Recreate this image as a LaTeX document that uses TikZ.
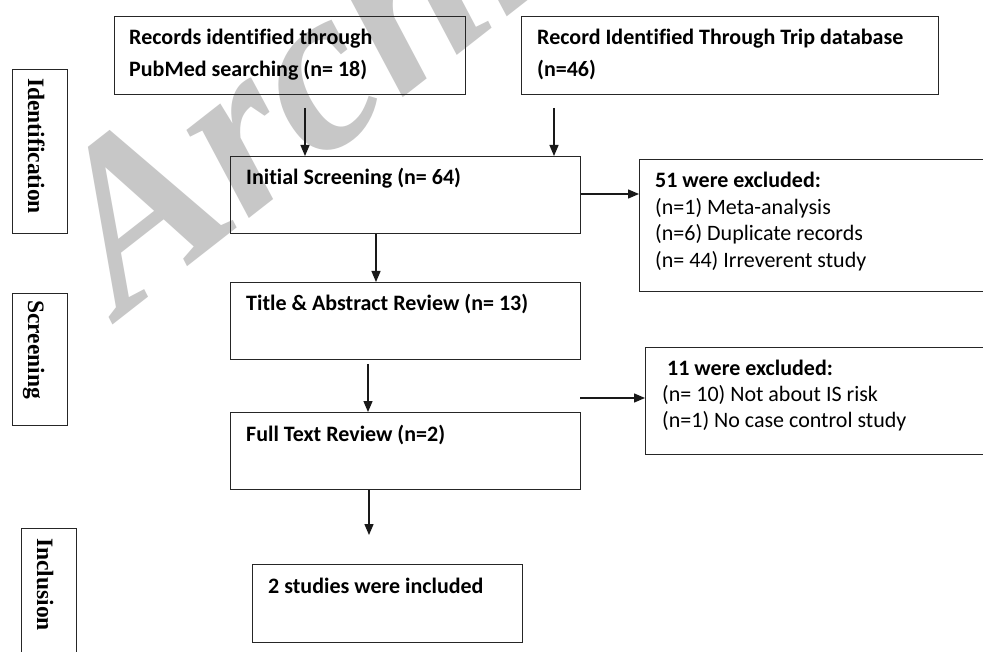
\documentclass[tikz,border=0pt]{standalone}
\usepackage{fontspec}
\setmainfont{Carlito}[Ligatures=CommonOff]
\newfontfamily\timesf{Liberation Serif}
\usetikzlibrary{arrows.meta}
\newcommand\mylines[1]{\begin{tabular}[t]{@{}l@{}}#1\end{tabular}}
\begin{document}
\begin{tikzpicture}[x=1pt,y=-1pt,
  box/.style={draw=black!85,line width=1.2pt,anchor=north west,inner sep=0pt,
    minimum width=#1},
  box/.default=100pt,
  lab/.style={anchor=base west,rotate=-90,inner sep=0pt,
    font=\timesf\fontsize{23.5}{23.5}\selectfont\bfseries},
  head/.style={anchor=base west,inner sep=0pt,font=\fontsize{22}{32}\selectfont\bfseries},
  plain/.style={anchor=base west,inner sep=0pt,font=\fontsize{22}{26.4}\selectfont},
  arr/.style={draw=black!90,line width=1.3pt,-{Triangle[length=11pt,width=9pt]}},
  wm/.style={text=black!22,anchor=base west,inner sep=0pt,rotate=38,
    font=\timesf\fontsize{235}{235}\selectfont\bfseries\itshape}
]
\useasboundingbox (0,0) rectangle (983,652);
\clip (0,0) rectangle (983,652);
\fill[white] (0,0) rectangle (983,652);

% watermark
\node[wm] (mark) at (122,318) {Archive};

% stage labels
\node[box=55pt,minimum height=164pt] (idbox) at (12,69) {};
\node[lab] (idt) at (28,78) {Identification};
\node[box=55pt,minimum height=132pt] (scbox) at (12,293) {};
\node[lab] (sct) at (28,300) {Screening};
\node[box=55pt,minimum height=140pt] (inbox) at (21,528) {};
\node[lab] (int) at (37,538) {Inclusion};

% boxes
\node[box=351pt,minimum height=78pt] (pub) at (114,16) {};
\node[head] (pubt) at (129,45) {\mylines{Records identified through\\PubMed searching (n= 18)}};
\node[box=417pt,minimum height=78pt] (trip) at (521,16) {};
\node[head] (tript) at (537,45) {\mylines{Record Identified Through Trip database\\(n=46)}};

\node[box=350pt,minimum height=77pt] (init) at (230,156) {};
\node[head] (initt) at (246,185) {Initial Screening (n= 64)};

\node[box=400pt,minimum height=132pt] (exa) at (639,159) {};
\node[plain] (exat) at (655,188) {\mylines{\textbf{51 were excluded:}\\(n=1) Meta-analysis\\(n=6) Duplicate records\\(n= 44) Irreverent study}};

\node[box=350pt,minimum height=77pt] (title) at (230,282) {};
\node[head] (titlet) at (246,311) {Title \& Abstract Review (n= 13)};

\node[box=350pt,minimum height=77pt] (full) at (230,412) {};
\node[head] (fullt) at (246,441) {Full Text Review (n=2)};

\node[box=400pt,minimum height=107pt] (exb) at (645,347) {};
\node[plain] (exbt) at (662,375) {\mylines{\hspace{5pt}\textbf{11 were excluded:}\\(n= 10) Not about IS risk\\(n=1) No case control study}};

\node[box=270pt,minimum height=78pt] (incl) at (252,564) {};
\node[head] (inclt) at (268,593) {2 studies were included};

% connectors
\coordinate (a1) at (305,108);
\coordinate (a2) at (554,108);
\coordinate (a3) at (368,364);
\coordinate (a4) at (580,398);
\coordinate (a5) at (369,535);
\draw[arr] (a1) -- (a1 |- init.north);
\draw[arr] (a2) -- (a2 |- init.north);
\draw[arr] (init.east |- 0,194) -- (exa.west |- 0,194);
\draw[arr] (init.south -| 376,0) -- (title.north -| 376,0);
\draw[arr] (a3) -- (a3 |- full.north);
\draw[arr] (a4) -- (a4 -| exb.west);
\draw[arr] (full.south -| a5) -- (a5);
\end{tikzpicture}
\end{document}
